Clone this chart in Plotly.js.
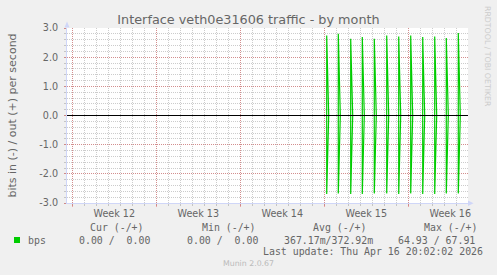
<!DOCTYPE html>
<html><head><meta charset="utf-8">
<script src="https://cdn.plot.ly/plotly-3.0.1.min.js"></script>
<style>html,body{margin:0;padding:0;background:#f0f0f0;}#chart{width:497px;height:275px;}</style>
</head><body><div id="chart"></div>
<script>
// ---- data ----
const spikeTimes = ['2026-04-05 04:48','2026-04-06 04:00','2026-04-07 04:48','2026-04-08 04:00',
  '2026-04-09 04:00','2026-04-10 04:48','2026-04-11 04:48','2026-04-12 04:48',
  '2026-04-13 04:48','2026-04-14 04:48','2026-04-15 04:00','2026-04-16 04:00'];
const outPeaks = [2.74, 2.80, 2.63, 2.69, 2.63, 2.74, 2.71, 2.74, 2.69, 2.71, 2.66, 2.83];
const inPeaks  = [-2.69, -2.67, -2.69, -2.69, -2.67, -2.67, -2.69, -2.67, -2.69, -2.69, -2.67, -2.67];
const decayHours = 4;
const lastUpdate = '2026-04-16 20:02';
const xRange = ['2026-03-14 13:24', '2026-04-16 23:24'];
const weekStarts = ['2026-03-15','2026-03-22','2026-03-29','2026-04-05','2026-04-12'];
const weekMids = ['2026-03-18 12:00','2026-03-25 12:00','2026-04-01 12:00','2026-04-08 12:00','2026-04-15 12:00'];
const weekLabels = ['Week 12','Week 13','Week 14','Week 15','Week 16'];
const yTickVals = [-3,-2,-1,0,1,2,3];
const yTickText = ['-3.0','-2.0','-1.0','0.0','1.0','2.0','3.0'];
const legendName = 'bps';
const legendHeaders = ['Cur (-/+)','Min (-/+)','Avg (-/+)','Max (-/+)'];
const legendValues = ['0.00 /  0.00','0.00 /  0.00','367.17m/372.92m','64.93 / 67.91'];
const lastUpdateText = 'Last update: Thu Apr 16 20:02:02 2026';
const titleText = 'Interface veth0e31606 traffic - by month';
const yTitle = 'bits in (-) / out (+) per second';

// ---- helpers ----
function toMs(s){ const p = s.length===10 ? s+'T00:00:00Z' : s.replace(' ','T')+':00Z'; return Date.parse(p); }
const nb = s => s.replace(/ /g,'\u00A0');

const outX=[], outY=[], inX=[], inY=[];
spikeTimes.forEach((s,i)=>{
  const t = toMs(s), e = t + decayHours*3600e3;
  outX.push(t,t,e); outY.push(0,outPeaks[i],0);
  inX.push(t,t,e);  inY.push(0,inPeaks[i],0);
});
outX.push(toMs(lastUpdate)); outY.push(0);
inX.push(toMs(lastUpdate));  inY.push(0);

const L=67, R=468, T=28, B=203, W=497, H=275;
const px = x => (x-L)/(R-L);
const py = y => (B-y)/(B-T);

const GREEN = '#00cc00', FONT = '#666666', AXIS = '#CFD6F8';
const GRID = 'rgba(143,143,143,0.45)', MGRID = 'rgba(229,0,0,0.3)';

const traces = [
  {x: inX, y: inY, type:'scatter', mode:'lines', line:{color:GREEN, width:1.2}, hoverinfo:'skip'},
  {x: outX, y: outY, type:'scatter', mode:'lines', line:{color:GREEN, width:1.2}, hoverinfo:'skip'},
  {x: weekMids, y: weekMids.map(()=>null), xaxis:'x2', type:'scatter', mode:'markers', hoverinfo:'skip'}
];

const mono = {family:'DejaVu Sans Mono', size:9.9, color:FONT};
const annotations = [];
const headerX = [89, 201, 312, 423];
const valueX = [78, 186, 283, 397];
legendHeaders.forEach((h,i)=>annotations.push({text:nb(h), x:px(headerX[i]), y:py(227.3)}));
legendValues.forEach((v,i)=>annotations.push({text:nb(v), x:px(valueX[i]), y:py(240)}));
annotations.push({text:legendName, x:px(27), y:py(240)});
annotations.push({text:nb(lastUpdateText), x:px(262), y:py(251.7)});
annotations.forEach(a=>Object.assign(a,{xref:'paper', yref:'paper', xanchor:'left', yanchor:'middle', showarrow:false, font:mono, borderpad:0}));
annotations.push({text:'Munin 2.0.67', xref:'paper', yref:'paper', x:px(248.5), y:py(263.3), xanchor:'center', yanchor:'middle',
  showarrow:false, borderpad:0, font:{family:'DejaVu Sans', size:7.8, color:'#bbbbbb'}});
annotations.push({text:'RRDTOOL / TOBI OETIKER', xref:'paper', yref:'paper', x:px(488), y:py(56), xanchor:'center', yanchor:'middle',
  textangle:90, showarrow:false, borderpad:0, font:{family:'DejaVu Sans', size:7.8, color:'#cccccc'}});

const shapes = [
  {type:'line', xref:'paper', yref:'y', x0:0, x1:1, y0:0, y1:0, line:{color:'#000000', width:1}, layer:'above'},
  {type:'path', xref:'paper', yref:'paper', path:`M ${px(64.5)} ${py(27.5)} L ${px(69.5)} ${py(27.5)} L ${px(67)} ${py(21.5)} Z`,
    fillcolor:AXIS, line:{width:0}, layer:'above'},
  {type:'path', xref:'paper', yref:'paper', path:`M ${px(468)} ${py(200.5)} L ${px(468)} ${py(206)} L ${px(473.5)} ${py(203.25)} Z`,
    fillcolor:AXIS, line:{width:0}, layer:'above'},
  {type:'rect', xref:'paper', yref:'paper', x0:px(14), x1:px(20), y0:py(243), y1:py(237), fillcolor:GREEN, line:{width:0}}
];

const layout = {
  width:W, height:H, margin:{l:L, r:W-R, t:T, b:H-B, pad:0},
  paper_bgcolor:'#f0f0f0', plot_bgcolor:'#ffffff', showlegend:false,
  title:{text:titleText, font:{family:'DejaVu Sans', size:12.8, color:FONT}, x:0.5, xanchor:'center',
    y:1-19.3/H, yanchor:'middle', xref:'container', yref:'container'},
  xaxis:{type:'date', range:xRange, tickmode:'array', tickvals:weekStarts, showticklabels:false,
    ticks:'outside', ticklen:3, tickcolor:MGRID, showgrid:true, gridcolor:MGRID, griddash:'1px,1px', gridwidth:1,
    showline:true, linecolor:AXIS, linewidth:1, zeroline:false, fixedrange:true,
    minor:{dtick:86400000, tick0:'2026-03-15', showgrid:true, gridcolor:GRID, griddash:'1px,1px', gridwidth:1,
      ticks:'outside', ticklen:2, tickcolor:GRID}},
  xaxis2:{type:'date', overlaying:'x', anchor:'y', side:'bottom', range:xRange, tickmode:'array',
    tickvals:weekMids, ticktext:weekLabels, showgrid:false, showline:false, ticks:'', zeroline:false, fixedrange:true,
    tickfont:{family:'DejaVu Sans', size:9.6, color:FONT}, ticklabelstandoff:3},
  yaxis:{range:[-3,3], tickmode:'array', tickvals:yTickVals, ticktext:yTickText,
    ticks:'outside', ticklen:2, tickcolor:MGRID, showgrid:true, gridcolor:MGRID, griddash:'1px,1px', gridwidth:1,
    showline:true, linecolor:AXIS, linewidth:1, zeroline:false, fixedrange:true,
    tickfont:{family:'DejaVu Sans', size:9.6, color:FONT}, ticklabelstandoff:4,
    minor:{dtick:0.2, tick0:0, showgrid:true, gridcolor:GRID, griddash:'1px,1px', gridwidth:1,
      ticks:'outside', ticklen:2, tickcolor:GRID},
    title:{text:yTitle, font:{family:'DejaVu Sans', size:11, color:FONT}, standoff:20}},
  annotations, shapes
};

Plotly.newPlot('chart', traces, layout, {staticPlot:true, displayModeBar:false});
</script></body></html>
